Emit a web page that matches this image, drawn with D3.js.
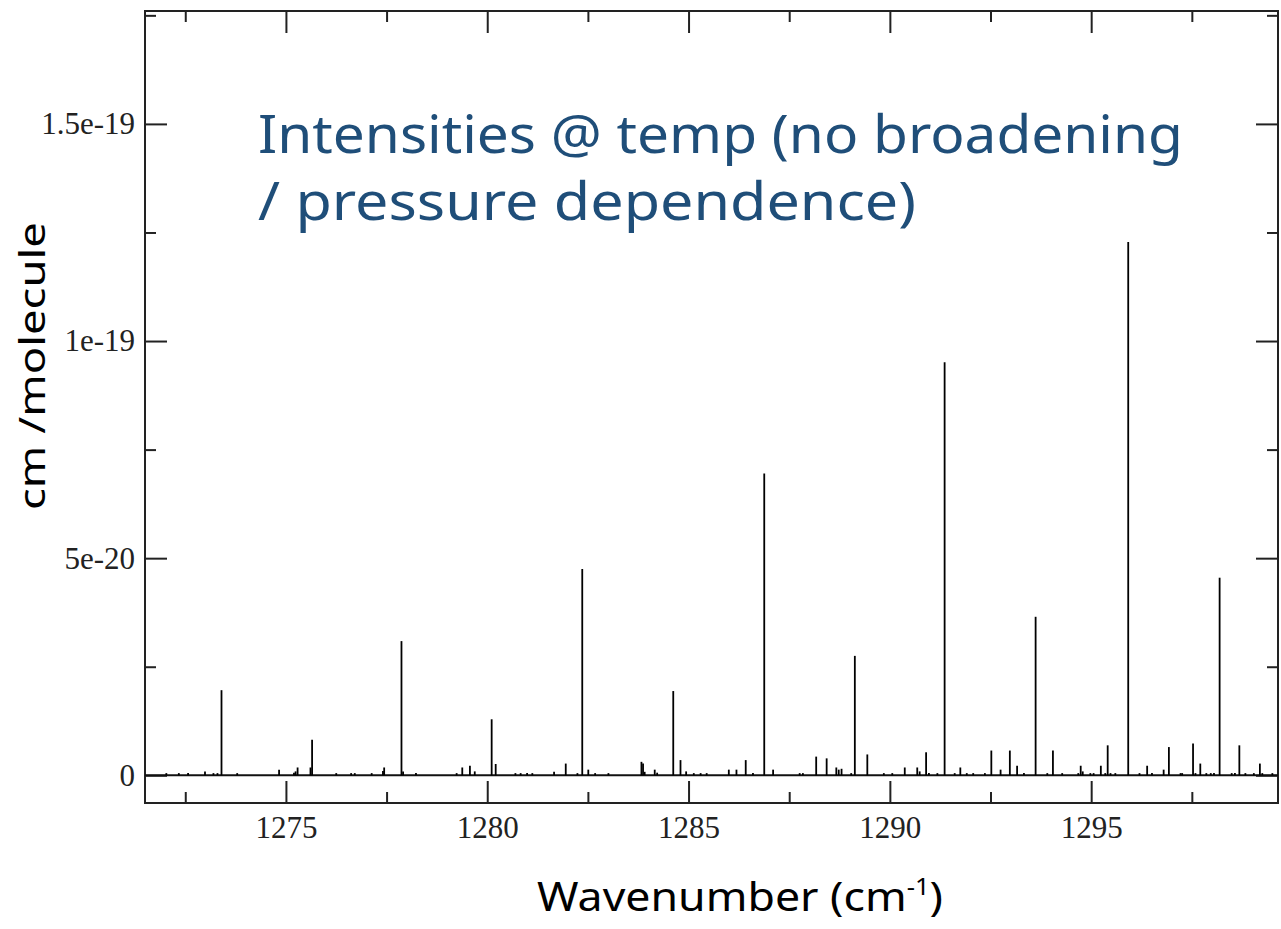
<!DOCTYPE html>
<html lang="en">
<head>
    <meta charset="UTF-8">
    <script src="https://cdn.jsdelivr.net/npm/d3@7/dist/d3.min.js"></script>
    <style>
        body { margin: 0; background: #fff; }
        svg { display: block; }
        .tick text { font-family: "Liberation Serif", "DejaVu Serif", serif; font-size: 31px; fill: #222; }
        .tick line { stroke: #222; stroke-width: 2; }
    </style>
</head>
<body>
<svg width="1281" height="929"></svg>
<script>
    // strong lines (wavenumber cm-1, intensity in 1e-20 cm/molecule)
    var strongWn = [1273.40, 1277.87, 1280.11, 1282.36, 1284.62, 1286.88, 1289.13, 1291.36, 1293.62, 1295.92, 1298.19];
    var strongS = [1.96, 3.09, 1.29, 4.75, 1.94, 6.95, 2.75, 9.51, 3.65, 12.28, 4.55];

    // weak lines
    var weakWn = [1272.03, 1272.34, 1272.57, 1272.99, 1273.20, 1273.30, 1273.79, 1274.83, 1275.20, 1275.24,
        1275.29, 1275.61, 1275.65, 1276.25, 1276.62, 1276.71, 1277.13, 1277.41, 1277.44, 1277.91,
        1278.23, 1279.24, 1279.38, 1279.57, 1279.69, 1280.21, 1280.70, 1280.83, 1280.99, 1281.12,
        1281.66, 1281.95, 1282.24, 1282.51, 1282.68, 1283.01, 1283.83, 1283.87, 1283.91, 1284.16,
        1284.22, 1284.80, 1284.94, 1285.13, 1285.30, 1285.45, 1286.00, 1286.19, 1286.42, 1286.60,
        1287.10, 1287.76, 1287.84, 1288.17, 1288.43, 1288.67, 1288.73, 1288.80, 1289.04, 1289.44,
        1289.85, 1290.06, 1290.37, 1290.68, 1290.74, 1290.90, 1290.97, 1291.18, 1291.61, 1291.75,
        1291.91, 1292.07, 1292.36, 1292.52, 1292.75, 1292.98, 1293.16, 1293.33, 1293.91, 1294.05,
        1294.28, 1294.68, 1294.74, 1294.79, 1294.98, 1295.06, 1295.24, 1295.35, 1295.41, 1295.48,
        1295.60, 1296.20, 1296.39, 1296.51, 1296.80, 1296.93, 1297.22, 1297.26, 1297.53, 1297.59,
        1297.71, 1297.86, 1297.97, 1298.05, 1298.49, 1298.57, 1298.68, 1298.83, 1299.04, 1299.19,
        1299.25, 1299.50];
    var weakS = [0.05, 0.05, 0.05, 0.09, 0.05, 0.05, 0.05, 0.13, 0.06, 0.09,
        0.18, 0.18, 0.82, 0.05, 0.05, 0.05, 0.05, 0.10, 0.18, 0.09,
        0.05, 0.05, 0.18, 0.22, 0.09, 0.26, 0.05, 0.05, 0.05, 0.05,
        0.08, 0.27, 0.05, 0.13, 0.05, 0.05, 0.31, 0.27, 0.08, 0.13,
        0.06, 0.35, 0.09, 0.05, 0.05, 0.05, 0.13, 0.13, 0.35, 0.05,
        0.13, 0.05, 0.05, 0.43, 0.39, 0.18, 0.13, 0.15, 0.05, 0.48,
        0.05, 0.05, 0.18, 0.18, 0.09, 0.53, 0.05, 0.05, 0.05, 0.18,
        0.05, 0.05, 0.05, 0.57, 0.13, 0.57, 0.22, 0.05, 0.05, 0.57,
        0.05, 0.05, 0.22, 0.09, 0.05, 0.05, 0.22, 0.05, 0.69, 0.05,
        0.05, 0.05, 0.22, 0.05, 0.13, 0.65, 0.05, 0.05, 0.73, 0.05,
        0.27, 0.05, 0.05, 0.05, 0.05, 0.05, 0.69, 0.05, 0.05, 0.27,
        0.05, 0.05];

    var xMajor = [1275, 1280, 1285, 1290, 1295];
    var xMinor = [1272.5, 1277.5, 1282.5, 1287.5, 1292.5, 1297.5];
    var yMajor = [0, 5e-20, 1e-19, 1.5e-19];
    var yMinor = [2.5e-20, 7.5e-20, 1.25e-19, 1.75e-19];
    var yLabels = ["0", "5e-20", "1e-19", "1.5e-19"];

    var svg = d3.select("svg");
    var box = {left: 145, right: 1278, top: 11, bottom: 803};

    var x = d3.scaleLinear().domain([1271.50, 1299.64]).range([box.left, box.right]);
    var y = d3.scaleLinear().domain([-0.638e-20, 17.60e-20]).range([box.bottom, box.top]);

    function addAxis(axis, tx, ty) {
        var g = svg.append("g").attr("transform", "translate(" + tx + "," + ty + ")").call(axis);
        g.select(".domain").remove();
        return g;
    }

    // bottom
    addAxis(d3.axisBottom(x).tickValues(xMajor).tickSize(-22).tickPadding(13).tickFormat(d3.format("d")), 0, box.bottom);
    addAxis(d3.axisBottom(x).tickValues(xMinor).tickSize(-11).tickFormat(""), 0, box.bottom);
    // top
    addAxis(d3.axisTop(x).tickValues(xMajor).tickSize(-22).tickFormat(""), 0, box.top);
    addAxis(d3.axisTop(x).tickValues(xMinor).tickSize(-11).tickFormat(""), 0, box.top);
    // left
    addAxis(d3.axisLeft(y).tickValues(yMajor).tickSize(-22).tickPadding(10)
        .tickFormat(function (d, i) { return yLabels[i]; }), box.left, 0);
    addAxis(d3.axisLeft(y).tickValues(yMinor).tickSize(-11).tickFormat(""), box.left, 0);
    // right
    addAxis(d3.axisRight(y).tickValues(yMajor).tickSize(-22).tickFormat(""), box.right, 0);
    addAxis(d3.axisRight(y).tickValues(yMinor).tickSize(-11).tickFormat(""), box.right, 0);

    // frame
    svg.append("rect")
        .attr("x", box.left).attr("y", box.top)
        .attr("width", box.right - box.left).attr("height", box.bottom - box.top)
        .attr("fill", "none").attr("stroke", "#222").attr("stroke-width", 2);

    // zero line
    svg.append("line")
        .attr("x1", box.left).attr("x2", box.right)
        .attr("y1", y(0)).attr("y2", y(0))
        .attr("stroke", "#111").attr("stroke-width", 2);

    var weak = weakWn.map(function (d, i) { return [d, weakS[i] * 1e-20]; });
    var strong = strongWn.map(function (d, i) { return [d, strongS[i] * 1e-20]; });

    svg.append("g").selectAll("line")
        .data(weak.concat(strong))
        .enter()
        .append("line")
        .attr("x1", function (d) { return x(d[0]); })
        .attr("x2", function (d) { return x(d[0]); })
        .attr("y1", y(0))
        .attr("y2", function (d) { return y(d[1]); })
        .attr("stroke", "#000")
        .attr("stroke-width", 1.8);

    // overlay title
    var title = svg.append("g")
        .attr("font-family", "'Noto Sans', 'DejaVu Sans', sans-serif")
        .attr("font-size", 52)
        .attr("fill", "#1f4e79");
    title.append("text").attr("x", 258).attr("y", 153)
        .attr("textLength", 925).attr("lengthAdjust", "spacingAndGlyphs")
        .text("Intensities @ temp (no broadening");
    title.append("text").attr("x", 258).attr("y", 220)
        .attr("textLength", 658).attr("lengthAdjust", "spacingAndGlyphs")
        .text("/ pressure dependence)");

    // axis titles
    svg.append("text")
        .attr("transform", "translate(45,366) rotate(-90)")
        .attr("text-anchor", "middle")
        .attr("font-family", "'Noto Sans', 'DejaVu Sans', sans-serif")
        .attr("font-size", 36)
        .attr("fill", "#000")
        .attr("textLength", 288).attr("lengthAdjust", "spacingAndGlyphs")
        .text("cm /molecule");

    var xl = svg.append("text")
        .attr("x", 537).attr("y", 911)
        .attr("font-family", "'Noto Sans', 'DejaVu Sans', sans-serif")
        .attr("font-size", 40)
        .attr("fill", "#000");
    xl.append("tspan").text("Wavenumber (cm");
    xl.append("tspan").attr("font-size", 23).attr("dy", -16).text("-1");
    xl.append("tspan").attr("dy", 16).text(")");
    // stretch to the reference width
    var w = xl.node().getComputedTextLength();
    xl.attr("textLength", 406).attr("lengthAdjust", "spacingAndGlyphs");
</script>
</body>
</html>
